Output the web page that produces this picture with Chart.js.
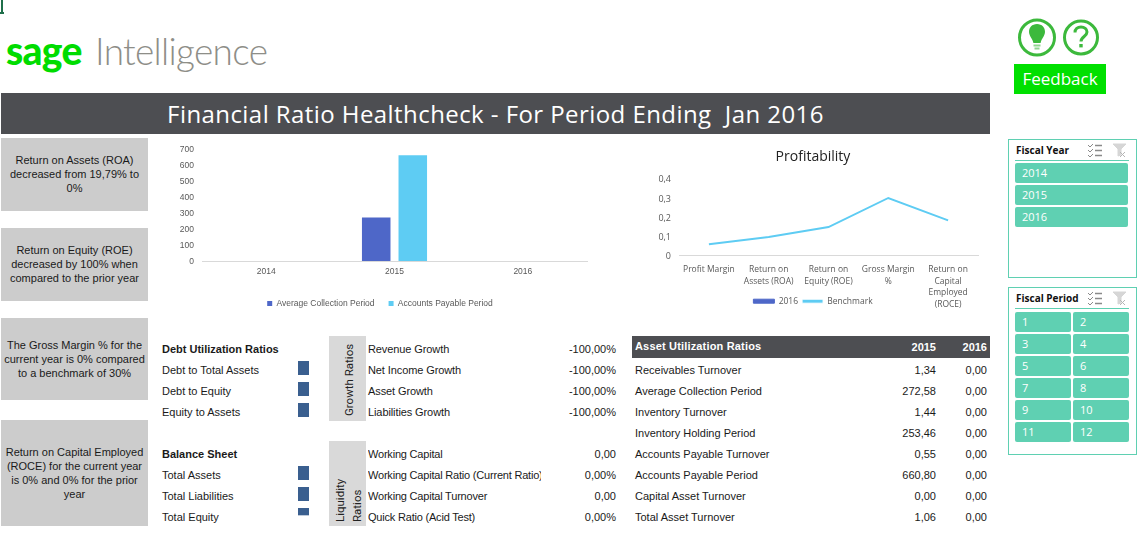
<!DOCTYPE html>
<html>
<head>
<meta charset="utf-8">
<title>Financial Ratio Healthcheck</title>
<script src="https://cdn.jsdelivr.net/npm/chart.js@4"></script>
<style>
html, body { margin: 0; padding: 0; background: #fff; }
body { position: relative; width: 1148px; height: 543px; overflow: hidden; font-family: "Liberation Sans", Arial, sans-serif; font-size: 11px; color: #1a1a1a; }
.abs { position: absolute; white-space: pre; }
canvas { position: absolute; display: block; }
.note { position: absolute; left: 1px; width: 147px; background: #cccccc; display: flex; align-items: center; justify-content: center; text-align: center; line-height: 14px; font-size: 11px; box-sizing: border-box; }
.slicer { position: absolute; left: 1008px; width: 129px; border: 1px solid #5fd0b2; box-sizing: border-box; }
.btn { position: absolute; background: #5fd0b2; color: #fff; border-radius: 2px; font: 11px/20px "Open Sans", sans-serif; padding-left: 7px; box-sizing: border-box; height: 20px; }
.side { position: absolute; left: 329px; width: 37px; background: #d9d9d9; }
.vert { position: absolute; transform: rotate(-90deg); transform-origin: left top; white-space: pre; font: 11.5px/16px Roboto, sans-serif; color: #222; }
</style>
</head>
<body>
<script>
// chart data
var barYears = ["2014", "2015", "2016"];
var avgCollection = [0, 272.58, 0];
var payablePeriod = [0, 660.80, 0];

var profitLabels = ["Profit Margin", ["Return on", "Assets (ROA)"], ["Return on", "Equity (ROE)"], ["Gross Margin", "%"], ["Return on", "Capital", "Employed", "(ROCE)"]];
var profit2016 = [0, 0, 0, 0, 0];
var profitBenchmark = [0.06, 0.097, 0.149, 0.30, 0.184];

// in-cell data bars, share of the cell height
var debtBars = [1, 1, 1];
var balanceBars = [1, 1, 0.5];

// text tables
var notes = [
    "Return on Assets (ROA)\ndecreased from 19,79% to\n0%",
    "Return on Equity (ROE)\ndecreased by 100% when\ncompared to the prior year",
    "The Gross Margin % for the\ncurrent year is 0% compared\nto a benchmark of 30%",
    "Return on Capital Employed\n(ROCE) for the current year\nis 0% and 0% for the prior\nyear"
];
var debtLabels = ["Debt to Total Assets", "Debt to Equity", "Equity to Assets"];
var balanceLabels = ["Total Assets", "Total Liabilities", "Total Equity"];
var growthLabels = ["Revenue Growth", "Net Income Growth", "Asset Growth", "Liabilities Growth"];
var growthValues = ["-100,00%", "-100,00%", "-100,00%", "-100,00%"];
var liquidityLabels = ["Working Capital", "Working Capital Ratio (Current Ratio)", "Working Capital Turnover", "Quick Ratio (Acid Test)"];
var liquidityValues = ["0,00", "0,00%", "0,00", "0,00%"];
var assetLabels = ["Receivables Turnover", "Average Collection Period", "Inventory Turnover", "Inventory Holding Period", "Accounts Payable Turnover", "Accounts Payable Period", "Capital Asset Turnover", "Total Asset Turnover"];
var asset2015 = ["1,34", "272,58", "1,44", "253,46", "0,55", "660,80", "0,00", "1,06"];
var asset2016 = ["0,00", "0,00", "0,00", "0,00", "0,00", "0,00", "0,00", "0,00"];
var fiscalYears = ["2014", "2015", "2016"];
var fiscalPeriods = ["1", "2", "3", "4", "5", "6", "7", "8", "9", "10", "11", "12"];

var BLUE = "#4E67C8", CYAN = "#5ECCF3", DARK = "#4d4e52";

function el(tag, cls, css, text, parent) {
    var d = document.createElement(tag);
    if (cls) d.className = cls;
    if (css) d.style.cssText = css;
    if (text !== undefined) d.textContent = text;
    (parent || document.body).appendChild(d);
    return d;
}
function textAt(x, y, text, extra) { // y is the middle of the line
    return el("div", "abs", "left:" + x + "px;top:" + (y - 8) + "px;line-height:16px;" + (extra || ""), text);
}
function textRight(x, y, text, extra) {
    return el("div", "abs", "right:" + (1148 - x) + "px;top:" + (y - 8) + "px;line-height:16px;" + (extra || ""), text);
}

// top left cell mark
el("div", "", "position:absolute;left:1px;top:0;width:2px;height:14px;background:#1f6f4a");
el("div", "", "position:absolute;left:0;top:12px;width:4px;height:2px;background:#1f6f4a");

// logo
el("div", "abs", "left:6px;top:28px;font:900 39px/44px Lato,sans-serif;color:#00dc00;letter-spacing:-.7px", "sage");
el("div", "abs", "left:95px;top:27px;font:300 37px/48px Lato,sans-serif;color:#8e8e88;letter-spacing:-.7px", "Intelligence");

// header band
el("div", "", "position:absolute;left:1px;top:93px;width:989px;height:41px;background:" + DARK);
el("div", "abs", "left:1px;width:989px;top:93px;text-align:center;font:24px/42px 'Open Sans',sans-serif;letter-spacing:.43px;color:#fff", "Financial Ratio Healthcheck - For Period Ending  Jan 2016");

// icons + feedback
var ICONS = '<svg xmlns="http://www.w3.org/2000/svg" width="100" height="44" style="position:absolute;left:1010px;top:15px">' +
    '<circle cx="27" cy="22.5" r="17.5" fill="none" stroke="#3cb93c" stroke-width="3"/>' +
    '<path d="M27 9c-5 0-8 3.6-8 7.8 0 4.2 3.4 6.4 4.4 11.2h7.2c1-4.8 4.4-7 4.4-11.2C35 12.6 32 9 27 9z" fill="#3cb93c"/>' +
    '<rect x="23.5" y="29.5" width="7" height="2" fill="#8fd68f"/><rect x="24.5" y="32.5" width="5" height="2" fill="#8fd68f"/>' +
    '<circle cx="71" cy="22.5" r="16.5" fill="none" stroke="#3cb93c" stroke-width="3"/>' +
    '<path d="M65 17.5c0-3.4 2.6-5.5 6-5.5s6 2.1 6 5c0 4.5-6 4.5-6 9.5" fill="none" stroke="#3cb93c" stroke-width="3"/>' +
    '<rect x="69.3" y="29" width="3.4" height="3.4" fill="#3cb93c"/></svg>';
document.body.insertAdjacentHTML("beforeend", ICONS);
el("div", "", "position:absolute;left:1014px;top:64px;width:92px;height:30px;background:#00e000;color:#fff;text-align:center;font:17px/30px 'Open Sans',sans-serif", "Feedback");

// left notes
var noteBoxes = [[138, 73, 1], [228, 73, 1], [318, 82, 0], [420, 106, 0]];
notes.forEach(function (t, i) {
    var n = el("div", "note", "top:" + noteBoxes[i][0] + "px;height:" + noteBoxes[i][1] + "px;padding-bottom:" + noteBoxes[i][2] + "px");
    el("span", "", "white-space:pre", t, n);
});

// debt + balance tables
var rowsTop = [370, 391, 412], rowsBottom = [475, 496, 517];
textAt(162, 349, "Debt Utilization Ratios", "font-weight:bold");
textAt(162, 454, "Balance Sheet", "font-weight:bold");
debtLabels.forEach(function (t, i) { textAt(162, rowsTop[i], t); });
balanceLabels.forEach(function (t, i) { textAt(162, rowsBottom[i], t); });

// growth + liquidity blocks
el("div", "side", "top:336px;height:85px");
el("div", "side", "top:441px;height:85px");
el("div", "vert", "left:341px;top:416px", "Growth Ratios");
el("div", "vert", "left:332px;top:522px", "Liquidity");
el("div", "vert", "left:349px;top:522px", "Ratios");
var midRows = [349, 370, 391, 412], liqRows = [454, 475, 496, 517];
growthLabels.forEach(function (t, i) {
    textAt(368, midRows[i], t, "letter-spacing:-.1px");
    textRight(616, midRows[i], growthValues[i]);
});
liquidityLabels.forEach(function (t, i) {
    textAt(368, liqRows[i], t, "letter-spacing:-.2px;width:173px;overflow:hidden");
    textRight(616, liqRows[i], liquidityValues[i]);
});

// asset table
el("div", "", "position:absolute;left:632px;top:336px;width:358px;height:22px;background:" + DARK);
textAt(635, 346, "Asset Utilization Ratios", "font-weight:bold;color:#fff;letter-spacing:.17px");
textRight(936, 347, "2015", "font-weight:bold;color:#fff");
textRight(987, 347, "2016", "font-weight:bold;color:#fff");
var assetRows = [370, 391, 412, 433, 454, 475, 496, 517];
assetLabels.forEach(function (t, i) {
    textAt(635, assetRows[i], t);
    textRight(936, assetRows[i], asset2015[i]);
    textRight(987, assetRows[i], asset2016[i]);
});

// slicers
function slicerHead(top, title) {
    el("div", "abs", "left:1016px;top:" + (top - 8) + "px;font:bold 10px/16px 'Open Sans',sans-serif;color:#111", title);
    el("div", "", "position:absolute;left:1015px;top:" + (top + 10) + "px;width:114px;height:1px;background:#5fd0b2");
    var svg = '<svg xmlns="http://www.w3.org/2000/svg" width="42" height="16" style="position:absolute;left:1087px;top:' + (top - 8) + 'px" fill="none" stroke="#8a8a8a">' +
        '<path d="M1 3l2 2 3-3M1 8l2 2 3-3M1 13l2 2 3-3" stroke-width="1"/><path d="M8 3.500h7M8 8.500h7M8 13.500h7" stroke-width="1.500"/>' +
        '<path d="M26 2h13l-5 5v6l-3 1V7z" fill="#d6d6d6" stroke="#d6d6d6"/><path d="M33 10l5 5m0-5l-5 5" stroke="#b5b5b5"/></svg>';
    document.body.insertAdjacentHTML("beforeend", svg);
}
el("div", "slicer", "top:139px;height:139px");
slicerHead(150, "Fiscal Year");
fiscalYears.forEach(function (t, i) {
    el("div", "btn", "left:1015px;top:" + (163 + i * 22) + "px;width:113px", t);
});
el("div", "slicer", "top:287px;height:168px");
slicerHead(298, "Fiscal Period");
fiscalPeriods.forEach(function (t, i) {
    var col = i % 2, row = Math.floor(i / 2);
    el("div", "btn", "left:" + (1015 + col * 58) + "px;top:" + (312 + row * 22) + "px;width:56px", t);
});

// charts
function addCanvas(x, y, w, h) {
    var c = el("canvas", "", "left:" + x + "px;top:" + y + "px;width:" + w + "px;height:" + h + "px");
    c.width = w; c.height = h;
    return c;
}
function fixWidth(w) { return function (s) { s.width = w; }; }
function fixHeight(h) { return function (s) { s.height = h; }; }
function comma(v) { return String(v).replace(".", ","); }

// x labels get clipped to the axis box, so let the box run to the bottom of the canvas
var longLabels = {
    id: "longLabels",
    afterLayout: function (chart) { chart.scales.x.bottom = chart.height; }
};

new Chart(addCanvas(150, 135, 460, 185), {
    type: "bar",
    data: {
        labels: barYears,
        datasets: [
            { label: "Average Collection Period", data: avgCollection, backgroundColor: BLUE, categoryPercentage: 0.57, barPercentage: 0.78 },
            { label: "Accounts Payable Period", data: payablePeriod, backgroundColor: CYAN, categoryPercentage: 0.57, barPercentage: 0.78 }
        ]
    },
    plugins: [longLabels],
    options: {
        responsive: false,
        animation: false,
        layout: { padding: { top: 14, right: 23, bottom: 2.25, left: 23 } },
        plugins: {
            tooltip: { enabled: false },
            legend: {
                position: "bottom",
                labels: { boxWidth: 5, boxHeight: 5, padding: 14, color: "#595959", font: { family: "Liberation Sans", size: 8.5 } }
            }
        },
        scales: {
            x: {
                afterFit: fixHeight(24.25),
                grid: { display: false, drawTicks: false },
                border: { color: "#d9d9d9" },
                ticks: { color: "#595959", padding: 5.7, maxRotation: 0, font: { family: "Liberation Sans", size: 8.5 } }
            },
            y: {
                min: 0, max: 700,
                afterFit: fixWidth(29),
                grid: { display: false, drawTicks: false },
                border: { display: false },
                ticks: { stepSize: 100, color: "#595959", padding: 8, labelOffset: 1, font: { family: "Liberation Sans", size: 8.5 } }
            }
        }
    }
});

new Chart(addCanvas(630, 135, 366, 185), {
    data: {
        labels: profitLabels,
        datasets: [
            { type: "bar", label: "2016", data: profit2016, backgroundColor: BLUE },
            { type: "line", label: "Benchmark", data: profitBenchmark, borderColor: CYAN, borderWidth: 2, pointRadius: 0, tension: 0, fill: false }
        ]
    },
    plugins: [longLabels],
    options: {
        responsive: false,
        animation: false,
        layout: { padding: { top: 0, right: 18, bottom: 4.55, left: 18 } },
        plugins: {
            tooltip: { enabled: false },
            title: {
                display: true,
                text: "Profitability",
                color: "#222",
                padding: { top: 13.6, bottom: 13.3 },
                font: { family: "Open Sans", size: 14, weight: "normal" }
            },
            legend: {
                position: "bottom",
                labels: {
                    boxWidth: 21, boxHeight: 4, padding: 4, color: "#595959",
                    font: { family: "Open Sans", size: 8.5 },
                    generateLabels: function (chart) {
                        // bar key is a thick block, line key a thin one
                        return chart.data.datasets.map(function (ds, i) {
                            return {
                                text: ds.label,
                                datasetIndex: i,
                                fontColor: "#595959",
                                fillStyle: i === 0 ? BLUE : CYAN,
                                strokeStyle: i === 0 ? BLUE : "#ffffff",
                                lineWidth: 1
                            };
                        });
                    }
                }
            }
        },
        scales: {
            x: {
                afterFit: fixHeight(37.15),
                grid: { display: false, drawTicks: false },
                border: { color: "#d9d9d9" },
                ticks: { color: "#595959", padding: 7.7, maxRotation: 0, autoSkip: false, font: { family: "Open Sans", size: 8.5, lineHeight: 1.38 } }
            },
            y: {
                min: 0, max: 0.4,
                afterFit: fixWidth(31),
                grid: { display: false, drawTicks: false },
                border: { display: false },
                ticks: { stepSize: 0.1, color: "#595959", padding: 8, labelOffset: 1, font: { family: "Open Sans", size: 9 }, callback: comma }
            }
        }
    }
});

// in-cell bars hang from the top of the cell
function cellBar(x, y, value) {
    new Chart(addCanvas(x, y, 11, 14), {
        type: "bar",
        data: { labels: [""], datasets: [{ data: [value], backgroundColor: "#3a5f8f", categoryPercentage: 1, barPercentage: 1 }] },
        options: {
            responsive: false,
            animation: false,
            plugins: { legend: { display: false }, tooltip: { enabled: false } },
            scales: { x: { display: false }, y: { display: false, min: 0, max: 1, reverse: true } }
        }
    });
}
debtBars.forEach(function (v, i) { cellBar(298, 361 + i * 21, v); });
balanceBars.forEach(function (v, i) { cellBar(298, 466 + i * 21, v); });
</script>
</body>
</html>
